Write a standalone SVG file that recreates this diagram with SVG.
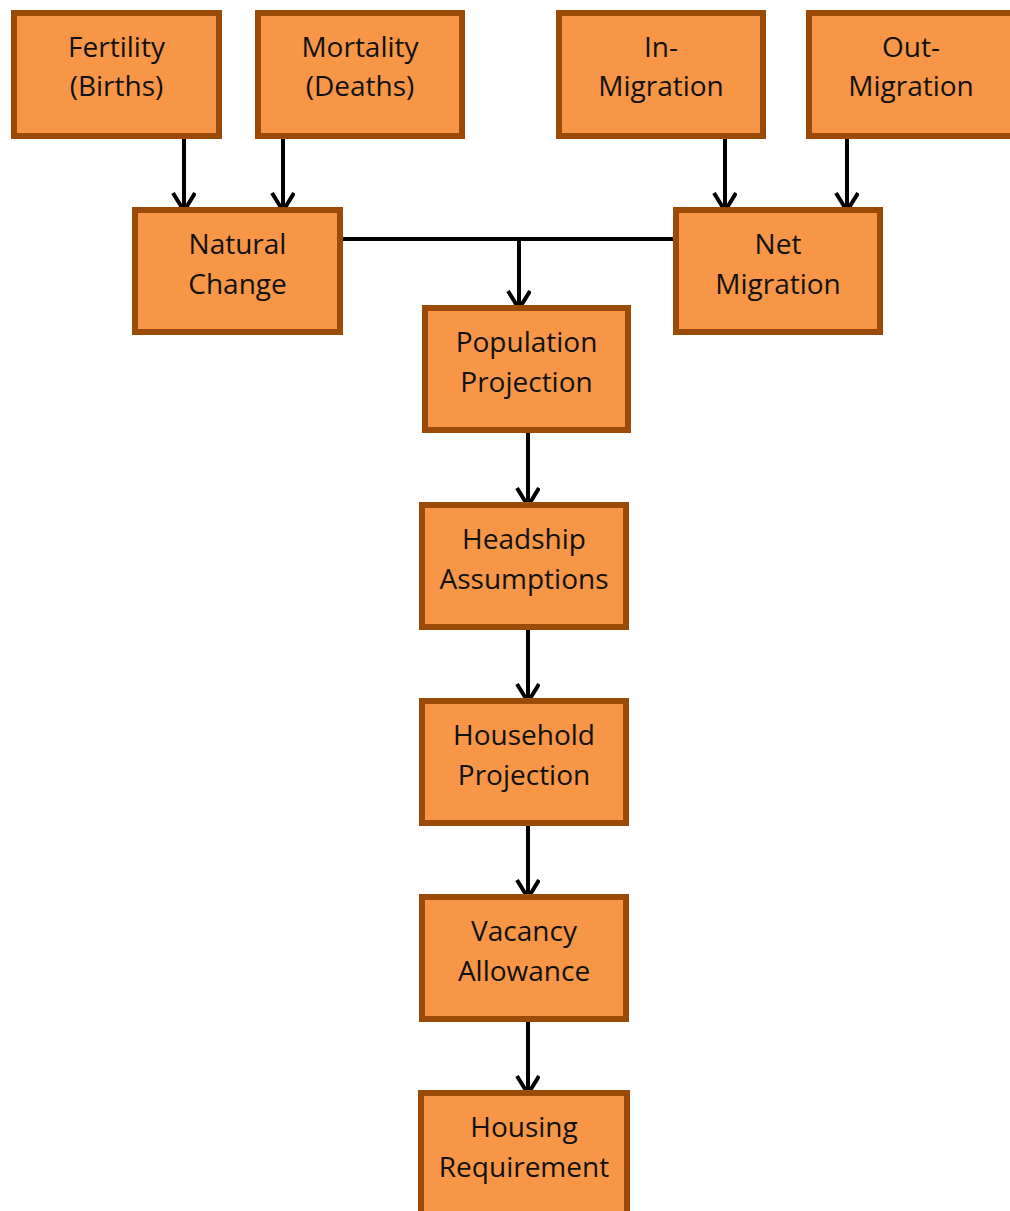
<svg xmlns="http://www.w3.org/2000/svg" width="1010" height="1211" viewBox="0 0 1010 1211">
<style>
.box{fill:#F79646;stroke:#9C4A08;stroke-width:6}
.lbl{font-family:"Open Sans","DejaVu Sans",sans-serif;font-size:28px;fill:#111;text-anchor:middle}
.con{fill:none;stroke:#000;stroke-width:4}
</style>
<defs>
<marker id="arr" markerUnits="userSpaceOnUse" markerWidth="30" markerHeight="30" refX="19" refY="12" orient="auto" viewBox="0 0 30 30">
<path d="M1,1 L19,12 L1,23" fill="none" stroke="#000" stroke-width="4"/>
</marker>
</defs>
<rect width="1010" height="1211" fill="#fff"/>
<g id="connectors">
<line class="con" x1="184" y1="139" x2="184" y2="211" marker-end="url(#arr)"/>
<line class="con" x1="283" y1="139" x2="283" y2="211" marker-end="url(#arr)"/>
<line class="con" x1="725" y1="139" x2="725" y2="211" marker-end="url(#arr)"/>
<line class="con" x1="847" y1="139" x2="847" y2="211" marker-end="url(#arr)"/>
<line class="con" x1="340" y1="239" x2="676" y2="239"/>
<line class="con" x1="519" y1="239" x2="519" y2="309" marker-end="url(#arr)"/>
<line class="con" x1="528" y1="433" x2="528" y2="506" marker-end="url(#arr)"/>
<line class="con" x1="528" y1="630" x2="528" y2="702" marker-end="url(#arr)"/>
<line class="con" x1="528" y1="826" x2="528" y2="898" marker-end="url(#arr)"/>
<line class="con" x1="528" y1="1022" x2="528" y2="1094" marker-end="url(#arr)"/>
</g>
<g id="fertility"><rect class="box" x="14" y="13" width="205" height="123"/><text class="lbl" x="116.5" y="57">Fertility</text><text class="lbl" x="116.5" y="96">(Births)</text></g>
<g id="mortality"><rect class="box" x="258" y="13" width="204" height="123"/><text class="lbl" x="360" y="57">Mortality</text><text class="lbl" x="360" y="96">(Deaths)</text></g>
<g id="in-migration"><rect class="box" x="559" y="13" width="204" height="123"/><text class="lbl" x="661" y="57">In-</text><text class="lbl" x="661" y="96">Migration</text></g>
<g id="out-migration"><rect class="box" x="809" y="13" width="205" height="123"/><text class="lbl" x="911" y="57">Out-</text><text class="lbl" x="911" y="96">Migration</text></g>
<g id="natural-change"><rect class="box" x="135" y="210" width="205" height="122"/><text class="lbl" x="237.5" y="254">Natural</text><text class="lbl" x="237.5" y="294">Change</text></g>
<g id="net-migration"><rect class="box" x="676" y="210" width="204" height="122"/><text class="lbl" x="778" y="254">Net</text><text class="lbl" x="778" y="294">Migration</text></g>
<g id="population-projection"><rect class="box" x="425" y="308" width="203" height="122"/><text class="lbl" x="526.5" y="352">Population</text><text class="lbl" x="526.5" y="392">Projection</text></g>
<g id="headship-assumptions"><rect class="box" x="422" y="505" width="204" height="122"/><text class="lbl" x="524" y="549">Headship</text><text class="lbl" x="524" y="589">Assumptions</text></g>
<g id="household-projection"><rect class="box" x="422" y="701" width="204" height="122"/><text class="lbl" x="524" y="745">Household</text><text class="lbl" x="524" y="785">Projection</text></g>
<g id="vacancy-allowance"><rect class="box" x="422" y="897" width="204" height="122"/><text class="lbl" x="524" y="941">Vacancy</text><text class="lbl" x="524" y="981">Allowance</text></g>
<g id="housing-requirement"><rect class="box" x="421" y="1093" width="206" height="122"/><text class="lbl" x="524" y="1137">Housing</text><text class="lbl" x="524" y="1177">Requirement</text></g>
</svg>
